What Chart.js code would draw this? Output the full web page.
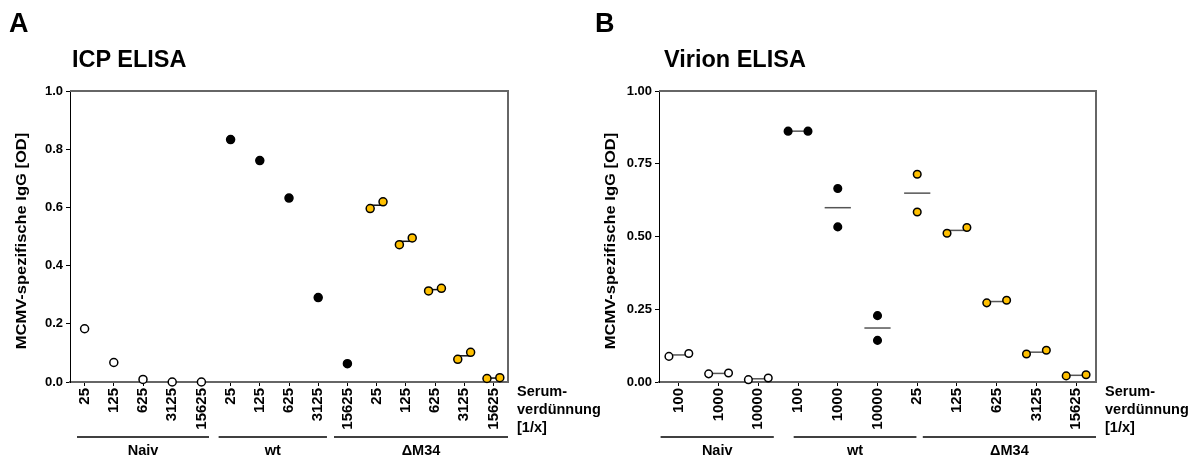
<!DOCTYPE html>
<html>
<head>
<meta charset="utf-8">
<script src="https://cdn.jsdelivr.net/npm/chart.js@4.4.1/dist/chart.umd.min.js"></script>
<style>
  body { margin: 0; background: #fff; }
  #wrap { position: relative; width: 1200px; height: 459px; font-family: "Liberation Sans", Arial, sans-serif; font-weight: bold; overflow: hidden; }
  canvas { position: absolute; top: 0; }
  .lbl { position: absolute; line-height: 1; white-space: nowrap; color: #000; }
</style>
</head>
<body>
<div id="wrap">
  <canvas id="icp" width="620" height="459" style="left:0"></canvas>
  <canvas id="virion" width="600" height="459" style="left:600px"></canvas>
  <div class="lbl" style="left:9px;top:10px;font-size:27px">A</div>
  <div class="lbl" style="left:72px;top:48px;font-size:23.5px">ICP ELISA</div>
  <div class="lbl" style="left:595px;top:10px;font-size:27px">B</div>
  <div class="lbl" style="left:664px;top:48px;font-size:23.5px">Virion ELISA</div>
</div>
<script>
const FONT = "'Liberation Sans', Arial, sans-serif";
Chart.defaults.font.family = FONT;
Chart.defaults.font.weight = "bold";
Chart.defaults.color = "#000";

// ICP ELISA (panel A)
const icpCategories = ["25", "125", "625", "3125", "15625", "25", "125", "625", "3125", "15625", "25", "125", "625", "3125", "15625"];
const icpGroups = ["Naiv", "wt", "ΔM34"];
const icpYTicks = [0, 0.2, 0.4, 0.6, 0.8, 1.0];
const icpNaiv = [0.183, 0.067, 0.009, 0.0, 0.0];
const icpWt = [0.833, 0.761, 0.632, 0.290, 0.063];
const icpDm34Rep1 = [0.596, 0.472, 0.313, 0.078, 0.012];
const icpDm34Rep2 = [0.619, 0.495, 0.322, 0.102, 0.015];

// Virion ELISA (panel B)
const virCategories = ["100", "1000", "10000", "100", "1000", "10000", "25", "125", "625", "3125", "15625"];
const virGroups = ["Naiv", "wt", "ΔM34"];
const virYTicks = [0, 0.25, 0.5, 0.75, 1.0];
const virNaivRep1 = [0.088, 0.028, 0.008];
const virNaivRep2 = [0.098, 0.031, 0.014];
const virWtRep1 = [0.862, 0.665, 0.228];
const virWtRep2 = [0.862, 0.533, 0.143];
const virDm34Rep1 = [0.714, 0.511, 0.272, 0.096, 0.021];
const virDm34Rep2 = [0.584, 0.531, 0.281, 0.109, 0.025];

const OPEN = { pointBackgroundColor: "#fff", pointBorderColor: "#000" };
const BLACK = { pointBackgroundColor: "#000", pointBorderColor: "#000" };
const GOLD = { pointBackgroundColor: "#FFC000", pointBorderColor: "#000" };

// replicates that are close sit side by side, others are stacked
function buildGroup(start, rep1, rep2, spread) {
  const pts = [], means = [];
  rep1.forEach((v, i) => {
    const x = start + i;
    if (!rep2) { pts.push({ x: x, y: v }); return; }
    const w = rep2[i];
    const side = Math.abs(v - w) < 0.04;
    const dx = side ? spread : 0;
    pts.push({ x: x - dx, y: v }, { x: x + dx, y: w });
    means.push({ x: x, y: (v + w) / 2, half: side ? spread : 0.33 });
  });
  return { pts, means };
}

function extras(o) {
  return {
    id: "extras",
    beforeDatasetsDraw(chart) {
      const { ctx, scales: { x, y } } = chart;
      ctx.save();
      ctx.strokeStyle = o.meanColor;
      ctx.lineWidth = 1.5;
      o.means.forEach(m => {
        const py = y.getPixelForValue(m.y);
        ctx.beginPath();
        ctx.moveTo(x.getPixelForValue(m.x - m.half), py);
        ctx.lineTo(x.getPixelForValue(m.x + m.half), py);
        ctx.stroke();
      });
      ctx.restore();
    },
    afterDraw(chart) {
      const { ctx, chartArea: a, scales: { x } } = chart;
      ctx.save();
      // top and right frame
      ctx.strokeStyle = "#666";
      ctx.lineWidth = 2;
      ctx.beginPath();
      ctx.moveTo(a.left, a.top);
      ctx.lineTo(a.right, a.top);
      ctx.lineTo(a.right, a.bottom);
      ctx.stroke();

      ctx.fillStyle = "#000";
      ctx.font = "bold 14.5px " + FONT;
      ctx.textBaseline = "middle";

      // serum dilution note
      ctx.textAlign = "left";
      ["Serum-", "verdünnung", "[1/x]"].forEach((t, i) => ctx.fillText(t, a.right + 9, 392 + i * 18));

      // groups under the axis
      ctx.strokeStyle = "#000";
      ctx.lineWidth = 1.5;
      ctx.textAlign = "center";
      o.groups.forEach((g, i) => {
        const x0 = x.getPixelForValue(o.spans[i][0]);
        const x1 = x.getPixelForValue(o.spans[i][1]);
        ctx.beginPath();
        ctx.moveTo(x0, 437);
        ctx.lineTo(x1, 437);
        ctx.stroke();
        ctx.fillText(g, (x0 + x1) / 2, 451);
      });

      // y title (slightly stretched along its length like the original)
      ctx.font = "bold 15px " + FONT;
      ctx.translate(a.left - 48, 241);
      ctx.rotate(-Math.PI / 2);
      ctx.scale(1.1, 1);
      ctx.fillText("MCMV-spezifische IgG [OD]", 0, 0);
      ctx.restore();
    }
  };
}

function makeChart(id, o) {
  const datasets = o.sets.map(s => ({
    data: s.group.pts,
    pointRadius: o.radius,
    pointBorderWidth: 1.5,
    clip: false,
    ...s.style
  }));
  const means = o.sets.flatMap(s => s.group.means);
  return new Chart(document.getElementById(id), {
    type: "scatter",
    data: { datasets },
    options: {
      responsive: false,
      animation: false,
      layout: { padding: { left: 0, top: 91, right: o.padRight, bottom: 0 } },
      plugins: { legend: { display: false }, tooltip: { enabled: false } },
      scales: {
        x: {
          type: "linear",
          min: -0.5,
          max: o.cats.length - 0.5,
          afterBuildTicks: ax => { ax.ticks = o.cats.map((c, i) => ({ value: i })); },
          afterFit: ax => { ax.height = 77; },
          ticks: {
            callback: v => o.cats[v],
            minRotation: 90, maxRotation: 90, autoSkip: false, padding: 2,
            font: { size: 15, weight: "bold" }
          },
          grid: { drawOnChartArea: false, tickLength: 4, color: "#000" },
          border: { color: "#666", width: 2, dash: [1, 1] }
        },
        y: {
          min: 0,
          max: 1,
          afterBuildTicks: ax => { ax.ticks = o.yTicks.map(v => ({ value: v })); },
          afterFit: ax => { ax.width = o.yWidth; },
          ticks: { callback: v => v.toFixed(o.dec), padding: 3, font: { size: 13, weight: "bold" } },
          grid: { drawOnChartArea: false, tickLength: 4, color: "#000" },
          border: { color: "#000", width: 1 }
        }
      }
    },
    plugins: [extras({ means, meanColor: o.meanColor, groups: o.groups, spans: o.spans })]
  });
}

makeChart("icp", {
  cats: icpCategories,
  groups: icpGroups,
  spans: [[-0.26, 4.26], [4.59, 8.3], [8.54, 14.5]],
  yTicks: icpYTicks,
  dec: 1,
  yWidth: 70,
  padRight: 112,
  radius: 4,
  meanColor: "#111",
  sets: [
    { group: buildGroup(0, icpNaiv, null, 0.22), style: OPEN },
    { group: buildGroup(5, icpWt, null, 0.22), style: BLACK },
    { group: buildGroup(10, icpDm34Rep1, icpDm34Rep2, 0.22), style: GOLD }
  ]
});

makeChart("virion", {
  cats: virCategories,
  groups: virGroups,
  spans: [[-0.46, 2.39], [2.89, 5.98], [6.14, 10.5]],
  yTicks: virYTicks,
  dec: 2,
  yWidth: 59,
  padRight: 104,
  radius: 3.8,
  meanColor: "#555",
  sets: [
    { group: buildGroup(0, virNaivRep1, virNaivRep2, 0.25), style: OPEN },
    { group: buildGroup(3, virWtRep1, virWtRep2, 0.25), style: BLACK },
    { group: buildGroup(6, virDm34Rep1, virDm34Rep2, 0.25), style: GOLD }
  ]
});
</script>
</body>
</html>
